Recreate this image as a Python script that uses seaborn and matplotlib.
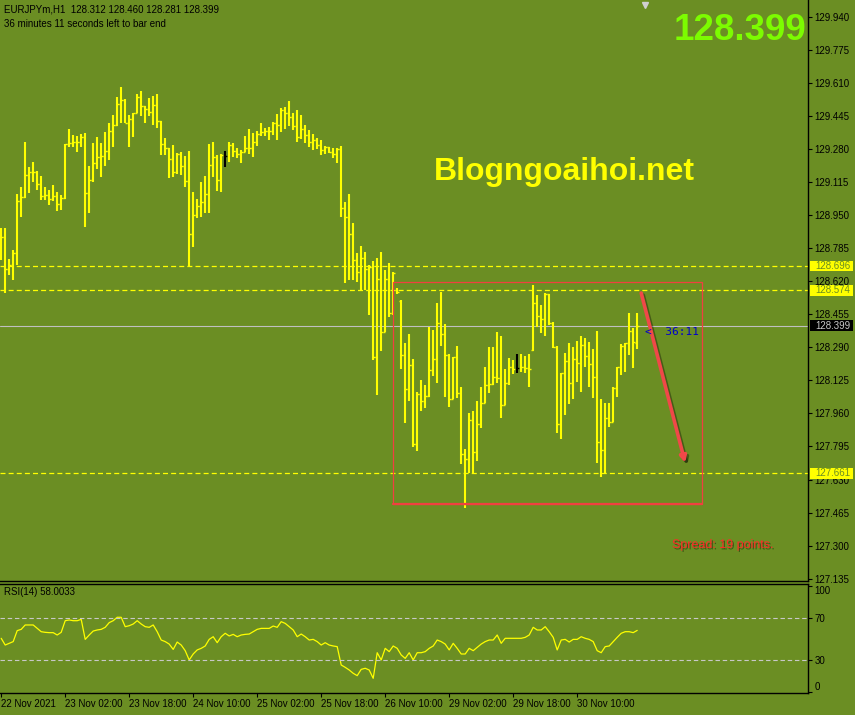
import numpy as np
import matplotlib
matplotlib.use("Agg")
import matplotlib.pyplot as plt
import matplotlib.patheffects as pe
from matplotlib.patches import Rectangle
from matplotlib.transforms import blended_transform_factory
import seaborn as sns

# EURJPYm H1 bars, 22 Nov 10:00 -> 30 Nov 23:00
opens = [
    128.841, 128.841, 128.681, 128.701, 128.761, 129.020, 129.040, 129.150, 129.165, 129.165,
    129.105, 129.045, 129.050, 129.030, 129.045, 129.005, 129.035, 129.305, 129.310, 129.315,
    129.315, 129.340, 129.060, 129.125, 129.210, 129.240, 129.245, 129.270, 129.370, 129.400,
    129.505, 129.525, 129.410, 129.430, 129.460, 129.540, 129.495, 129.480, 129.465, 129.500,
    129.420, 129.305, 129.285, 129.230, 129.165, 129.255, 129.195, 129.120, 128.856, 128.951,
    128.995, 129.015, 129.055, 129.200, 129.240, 129.125, 129.250, 129.245, 129.300, 129.270,
    129.255, 129.265, 129.285, 129.285, 129.315, 129.355, 129.365, 129.370, 129.370, 129.410,
    129.400, 129.475, 129.460, 129.440, 129.395, 129.340, 129.380, 129.350, 129.315, 129.325,
    129.300, 129.275, 129.290, 129.265, 129.255, 129.280, 128.985, 128.941, 128.856, 128.726,
    128.666, 128.736, 128.681, 128.691, 128.241, 128.631, 128.366, 128.631, 128.461, 128.576,
    128.521, 128.251, 128.082, 128.202, 127.807, 128.057, 128.022, 128.047, 128.177, 128.232,
    128.411, 128.356, 128.251, 128.032, 128.241, 128.062, 127.758, 127.732, 127.927, 127.767,
    127.907, 128.012, 128.102, 128.107, 128.142, 128.137, 128.002, 128.112, 128.192, 128.182,
    128.187, 128.192, 128.187, 128.276, 128.511, 128.446, 128.431, 128.556, 128.411, 128.291,
    127.907, 128.162, 128.222, 128.112, 128.232, 128.212, 128.301, 128.246, 128.207, 128.142,
    127.817, 127.777, 127.937, 127.917, 128.087, 128.192, 128.296, 128.311, 128.371, 128.312,
]
highs = [
    128.886, 128.886, 128.731, 128.776, 129.055, 129.090, 129.315, 129.190, 129.215, 129.170,
    129.145, 129.090, 129.075, 129.100, 129.065, 129.050, 129.305, 129.380, 129.350, 129.345,
    129.355, 129.360, 129.195, 129.310, 129.340, 129.310, 129.365, 129.410, 129.450, 129.540,
    129.590, 129.530, 129.450, 129.460, 129.555, 129.570, 129.495, 129.535, 129.545, 129.555,
    129.420, 129.335, 129.285, 129.300, 129.260, 129.265, 129.245, 129.270, 129.065, 129.030,
    129.115, 129.145, 129.305, 129.315, 129.250, 129.255, 129.270, 129.315, 129.310, 129.285,
    129.275, 129.345, 129.380, 129.360, 129.370, 129.410, 129.385, 129.390, 129.415, 129.455,
    129.485, 129.490, 129.520, 129.460, 129.475, 129.450, 129.400, 129.375, 129.355, 129.335,
    129.325, 129.295, 129.290, 129.285, 129.285, 129.295, 129.015, 129.055, 128.911, 128.761,
    128.796, 128.766, 128.701, 128.721, 128.736, 128.766, 128.676, 128.711, 128.666, 128.586,
    128.526, 128.311, 128.356, 128.232, 128.067, 128.127, 128.102, 128.391, 128.376, 128.511,
    128.566, 128.406, 128.256, 128.241, 128.296, 128.092, 127.783, 127.962, 127.972, 128.022,
    128.092, 128.192, 128.291, 128.291, 128.366, 128.346, 128.182, 128.237, 128.227, 128.256,
    128.256, 128.246, 128.256, 128.601, 128.551, 128.501, 128.561, 128.556, 128.416, 128.296,
    128.162, 128.261, 128.311, 128.291, 128.321, 128.346, 128.336, 128.316, 128.281, 128.371,
    128.032, 128.012, 128.012, 128.092, 128.192, 128.306, 128.311, 128.461, 128.386, 128.460,
]
lows = [
    128.726, 128.561, 128.651, 128.626, 128.701, 128.941, 129.035, 129.060, 129.115, 129.075,
    129.025, 129.025, 129.000, 129.020, 128.970, 128.975, 129.030, 129.290, 129.290, 129.265,
    129.290, 128.891, 128.960, 129.115, 129.180, 129.140, 129.195, 129.225, 129.290, 129.395,
    129.410, 129.410, 129.290, 129.340, 129.460, 129.445, 129.410, 129.445, 129.400, 129.385,
    129.250, 129.250, 129.135, 129.140, 129.155, 129.150, 129.090, 128.691, 128.791, 128.936,
    128.941, 128.960, 128.960, 129.140, 129.070, 129.065, 129.190, 129.215, 129.240, 129.235,
    129.210, 129.265, 129.255, 129.240, 129.295, 129.345, 129.345, 129.325, 129.350, 129.325,
    129.365, 129.380, 129.395, 129.375, 129.315, 129.330, 129.310, 129.290, 129.275, 129.280,
    129.250, 129.255, 129.260, 129.235, 129.210, 128.941, 128.611, 128.626, 128.626, 128.616,
    128.576, 128.576, 128.451, 128.227, 128.052, 128.271, 128.366, 128.441, 128.451, 128.556,
    128.182, 127.912, 128.022, 127.792, 127.772, 127.972, 127.987, 128.042, 128.147, 128.112,
    128.296, 128.042, 127.992, 128.032, 128.037, 127.708, 127.488, 127.662, 127.662, 127.722,
    127.887, 128.012, 128.062, 128.102, 128.112, 127.937, 128.002, 128.102, 128.157, 128.162,
    128.167, 128.162, 128.092, 128.271, 128.391, 128.361, 128.346, 128.401, 128.286, 127.862,
    127.832, 127.952, 128.007, 128.032, 128.117, 128.067, 128.192, 128.092, 128.037, 127.712,
    127.642, 127.662, 127.892, 127.917, 128.042, 128.151, 128.167, 128.251, 128.187, 128.281,
]
closes = [
    128.841, 128.681, 128.701, 128.761, 129.020, 129.040, 129.150, 129.165, 129.165, 129.105,
    129.045, 129.050, 129.030, 129.045, 129.005, 129.035, 129.305, 129.310, 129.315, 129.315,
    129.340, 129.060, 129.125, 129.210, 129.240, 129.245, 129.270, 129.370, 129.400, 129.505,
    129.525, 129.410, 129.430, 129.460, 129.540, 129.495, 129.480, 129.465, 129.500, 129.420,
    129.305, 129.285, 129.230, 129.165, 129.255, 129.195, 129.120, 128.856, 128.951, 128.995,
    129.015, 129.055, 129.200, 129.240, 129.125, 129.250, 129.245, 129.300, 129.270, 129.255,
    129.265, 129.285, 129.285, 129.315, 129.355, 129.365, 129.370, 129.370, 129.410, 129.400,
    129.475, 129.460, 129.440, 129.395, 129.340, 129.380, 129.350, 129.315, 129.325, 129.300,
    129.275, 129.290, 129.265, 129.255, 129.280, 128.985, 128.941, 128.856, 128.726, 128.666,
    128.736, 128.681, 128.691, 128.241, 128.631, 128.366, 128.631, 128.461, 128.661, 128.566,
    128.251, 128.082, 128.202, 127.807, 128.057, 128.022, 128.047, 128.177, 128.232, 128.411,
    128.356, 128.251, 128.032, 128.241, 128.062, 127.758, 127.732, 127.927, 127.767, 127.907,
    128.012, 128.102, 128.107, 128.142, 128.137, 128.002, 128.112, 128.192, 128.182, 128.187,
    128.192, 128.187, 128.182, 128.511, 128.446, 128.431, 128.556, 128.411, 128.291, 127.907,
    128.162, 128.222, 128.112, 128.232, 128.212, 128.301, 128.246, 128.207, 128.142, 127.817,
    127.777, 127.937, 127.917, 128.087, 128.192, 128.296, 128.311, 128.371, 128.316, 128.399,
]
black_bars = [56, 129]

rsi = [
    50.6, 44.3, 45.9, 47.5, 57.8, 59.0, 63.1, 63.1, 63.1, 59.9,
    56.8, 56.2, 55.9, 55.9, 53.7, 56.2, 67.1, 67.8, 67.1, 67.1,
    68.4, 49.6, 53.7, 57.4, 58.4, 59.0, 60.9, 65.3, 67.1, 70.3,
    70.3, 61.5, 62.4, 64.0, 67.1, 64.0, 61.5, 60.9, 63.1, 56.8,
    49.0, 47.5, 45.2, 40.2, 47.1, 44.3, 39.0, 30.3, 35.9, 39.7,
    41.2, 43.4, 49.6, 52.1, 46.5, 52.1, 55.3, 52.8, 54.3, 52.1,
    53.7, 54.3, 54.6, 56.8, 59.0, 59.9, 59.9, 59.9, 62.1, 60.9,
    66.2, 64.6, 61.5, 58.4, 52.1, 54.6, 52.1, 49.0, 49.6, 47.5,
    44.3, 46.5, 44.3, 43.4, 42.8, 25.6, 23.4, 20.9, 17.8, 15.6,
    21.5, 22.5, 20.9, 13.1, 37.1, 30.3, 41.2, 38.1, 43.4, 41.2,
    35.0, 31.8, 37.1, 30.3, 37.1, 37.1, 38.1, 41.2, 43.4, 49.0,
    47.5, 45.2, 39.7, 45.9, 41.2, 35.9, 35.9, 41.2, 39.0, 42.1,
    45.2, 47.5, 49.0, 49.0, 53.7, 45.9, 50.6, 50.6, 50.6, 50.6,
    50.6, 51.5, 53.7, 60.9, 58.4, 58.4, 61.5, 56.8, 51.5, 39.7,
    49.0, 49.6, 47.1, 49.6, 49.6, 52.1, 50.6, 49.6, 47.5, 39.0,
    37.1, 42.8, 43.4, 47.5, 51.5, 55.3, 56.8, 56.8, 55.9, 58.0033,
]

price_ticks = [127.135, 127.300, 127.465, 127.630, 127.795, 127.960, 128.125, 128.290, 128.455,
               128.620, 128.785, 128.950, 129.115, 129.280, 129.445, 129.610, 129.775, 129.940]
time_tick_bars = [0, 16, 32, 48, 64, 80, 96, 112, 128, 144]
time_tick_labels = ["22 Nov 2021", "23 Nov 02:00", "23 Nov 18:00", "24 Nov 10:00", "25 Nov 02:00",
                    "25 Nov 18:00", "26 Nov 10:00", "29 Nov 02:00", "29 Nov 18:00", "30 Nov 10:00"]
levels = [128.696, 128.574, 127.661]
last_price = 128.399
box_bars = [97.9, 175.3]
box_prices = [127.508, 128.618]
arrow_from = (160, 128.561)
arrow_to = (171, 127.713)

BG = "#6B8E23"
W, H = 855, 715

sns.set_style("ticks")
plt.rcParams["font.family"] = ["Liberation Sans", "DejaVu Sans"]
plt.rcParams["axes.facecolor"] = BG
plt.rcParams["figure.facecolor"] = BG
plt.rcParams["text.color"] = "black"

fig = plt.figure(figsize=(W / 100, H / 100), dpi=100)
ax = fig.add_axes([0, 1 - 581 / H, 808 / W, 581 / H])
ax_rsi = fig.add_axes([0, 22 / H, 808 / W, 109 / H])

idx = np.arange(len(closes))
colors = ["black" if i in black_bars else "#FFFF00" for i in idx]
ax.vlines(idx, lows, highs, colors=colors, lw=1.5, zorder=3)
ax.hlines(opens, idx - 0.55, idx, colors=colors, lw=1.0, zorder=3)
ax.hlines(closes, idx, idx + 0.55, colors=colors, lw=1.0, zorder=3)

for lvl in levels:
    ax.axhline(lvl, color="#FFFF00", lw=0.9, ls=(0, (4, 2.5)), zorder=2)
ax.axhline(last_price, color="#C0C0C0", lw=0.8, zorder=2)

# red box and arrow
ax.add_patch(Rectangle((box_bars[0], box_prices[0]), box_bars[1] - box_bars[0],
                       box_prices[1] - box_prices[0], fill=False, edgecolor="#F04040", lw=0.9, zorder=4))
ax.plot(box_bars, [box_prices[0]] * 2, color="#F04040", lw=1.6, zorder=4)
ax.annotate("", xy=arrow_to, xytext=arrow_from,
            arrowprops=dict(arrowstyle="-|>", color="#F04848", lw=2.6, mutation_scale=9,
                            shrinkA=0, shrinkB=0,
                            path_effects=[pe.SimpleLineShadow(offset=(1.5, -1.5), alpha=0.35), pe.Normal()]),
            zorder=6)

ax.text(161.0, 128.367, "<  36:11", color="#0000CD", fontsize=8, family="DejaVu Sans Mono",
        va="center", ha="left", zorder=6)
ax.plot([161], [129.999], marker="v", color="#D0D0D0", ms=5, clip_on=False, zorder=6)

ax.set_xlim(-0.3, 201.7)
ax.set_ylim(127.1235, 130.024)
ax.set_xticks([])
ax.yaxis.tick_right()
ax.set_yticks(price_ticks, [f"{p:.3f}" for p in price_ticks])
ax.tick_params(axis="y", direction="out", length=3, width=0.8, pad=1.5, labelsize=7,
               colors="black")
for side in ["left", "top"]:
    ax.spines[side].set_visible(False)
for side in ["right", "bottom"]:
    ax.spines[side].set_color("black")
    ax.spines[side].set_linewidth(1)

tr = blended_transform_factory(fig.transFigure, ax.transData)
for p, face, fg in [(levels[0], "#FFFF00", BG), (levels[1], "#FFFF00", BG),
                    (levels[2], "#FFFF00", BG), (last_price, "black", "#C8C8C8")]:
    ax.add_patch(Rectangle((810 / W, p - 0.026), 43 / W, 0.052, transform=tr, facecolor=face,
                           edgecolor="none", clip_on=False, zorder=7))
    ax.text(815 / W, p, f"{p:.3f}", transform=tr, color=fg, fontsize=7, va="center",
            ha="left", clip_on=False, zorder=8)

# RSI panel
sns.lineplot(x=idx, y=rsi, ax=ax_rsi, color="#FFFF00", lw=0.9)
for lvl in [70, 30]:
    ax_rsi.axhline(lvl, color="#C8C8C8", lw=0.8, ls=(0, (4, 2.5)))
ax_rsi.set_xlim(-0.3, 201.7)
ax_rsi.set_ylim(-0.66, 101.5)
ax_rsi.yaxis.tick_right()
ax_rsi.set_yticks([0, 30, 70, 100], ["", "30", "70", ""])
ax_rsi.tick_params(axis="y", direction="out", length=3, width=0.8, pad=1.5, labelsize=7,
                   colors="black")
rtr = blended_transform_factory(ax_rsi.transAxes, ax_rsi.transData)
ax_rsi.annotate("100", xy=(1, 100), xycoords=rtr, xytext=(4.5, -3.7), textcoords="offset points",
                fontsize=7, color="black", va="center", ha="left", annotation_clip=False)
ax_rsi.annotate("0", xy=(1, 0), xycoords=rtr, xytext=(4.5, 3.9), textcoords="offset points",
                fontsize=7, color="black", va="center", ha="left", annotation_clip=False)
ax_rsi.set_xticks(time_tick_bars, time_tick_labels, ha="left")
ax_rsi.tick_params(axis="x", direction="out", length=3, width=0.8, pad=1, labelsize=7,
                   colors="black")
ax_rsi.set_xlabel("")
ax_rsi.set_ylabel("")
ax_rsi.spines["left"].set_visible(False)
for side in ["right", "bottom", "top"]:
    ax_rsi.spines[side].set_color("black")
    ax_rsi.spines[side].set_linewidth(1)

# texts
fig.text(4 / W, 1 - 10 / H, "EURJPYm,H1  128.312 128.460 128.281 128.399", fontsize=7,
         color="black", va="center", ha="left")
fig.text(4 / W, 1 - 24 / H, "36 minutes 11 seconds left to bar end", fontsize=7,
         color="black", va="center", ha="left")
fig.text(4 / W, 1 - 592 / H, "RSI(14) 58.0033", fontsize=7, color="black", va="center", ha="left")
fig.text(806 / W, 1 - 40 / H, "128.399", fontsize=26.5, fontweight="bold", color="#7CFC00",
         ha="right", va="baseline")
fig.text(434 / W, 1 - 180 / H, "Blogngoaihoi.net", fontsize=23, fontweight="bold",
         color="#FFFF00", ha="left", va="baseline")
fig.text(672 / W, 1 - 548 / H, "Spread: 19 points.", fontsize=9, color="#FF2828",
         ha="left", va="baseline",
         path_effects=[pe.withSimplePatchShadow(offset=(1, -1), shadow_rgbFace="black", alpha=0.4)])

fig.savefig("out.png", dpi=100, facecolor=BG)
